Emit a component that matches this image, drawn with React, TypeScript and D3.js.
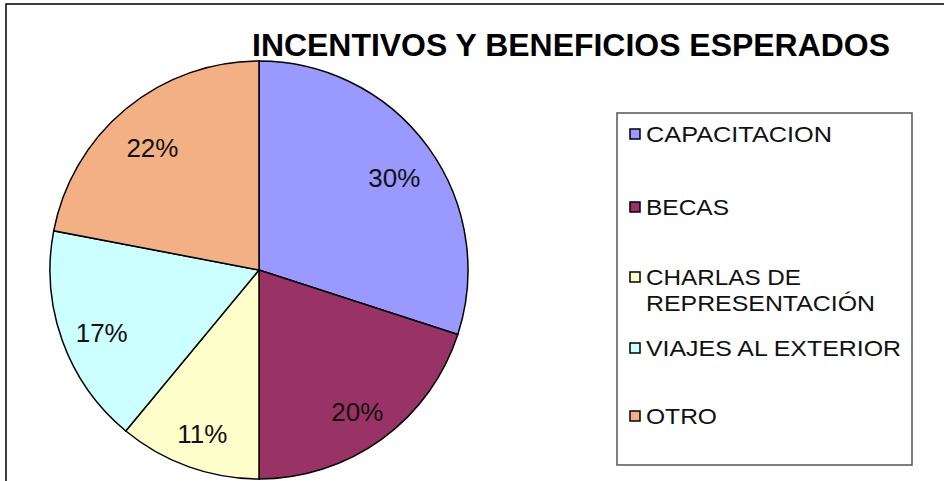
import React, { useEffect, useRef } from 'react';
import * as d3 from 'd3';

const categories = ['CAPACITACION', 'BECAS', 'CHARLAS DE REPRESENTACIÓN', 'VIAJES AL EXTERIOR', 'OTRO'];
const values = [30, 20, 11, 17, 22];
const colors = ['#9999FF', '#993366', '#FFFFCC', '#CCFFFF', '#F3B085'];
// legend text split into lines (as in the original box)
const legendLines = [['CAPACITACION'], ['BECAS'], ['CHARLAS DE', 'REPRESENTACIÓN'], ['VIAJES AL EXTERIOR'], ['OTRO']];
const legendWidths = [[186], [83], [155, 229], [255], [71]];
const legendY = [134, 207, 277, 348, 416];

const W = 944;
const H = 481;

const App: React.FC = () => {
  const svgRef = useRef<SVGSVGElement | null>(null);

  useEffect(() => {
    const svg = d3.select(svgRef.current);
    svg.selectAll('*').remove();

    // outer frame (runs off the right / bottom edges)
    svg.append('rect')
      .attr('x', 6).attr('y', 4)
      .attr('width', W + 20).attr('height', H + 20)
      .attr('fill', '#fff').attr('stroke', '#000').attr('stroke-width', 1.5);

    svg.append('text')
      .attr('x', 252).attr('y', 56)
      .attr('font-family', 'Liberation Sans, Arial, sans-serif')
      .attr('font-weight', 'bold')
      .attr('font-size', 31)
      .attr('textLength', 638)
      .attr('lengthAdjust', 'spacingAndGlyphs')
      .attr('fill', '#000')
      .text('INCENTIVOS Y BENEFICIOS ESPERADOS');

    const cx = 259, cy = 270, r = 209;
    const pie = d3.pie<number>().sort(null).value((d) => d)(values);
    const arc = d3.arc<d3.PieArcDatum<number>>().innerRadius(0).outerRadius(r);
    const labelArc = d3.arc<d3.PieArcDatum<number>>().innerRadius(r * 0.8).outerRadius(r * 0.8);
    const total = d3.sum(values);

    const g = svg.append('g').attr('transform', `translate(${cx},${cy})`);
    g.selectAll('path.slice')
      .data(pie)
      .enter()
      .append('path')
      .attr('class', 'slice')
      .attr('d', arc)
      .attr('fill', (_, i) => colors[i])
      .attr('stroke', '#000')
      .attr('stroke-width', 1.5);

    g.selectAll('text.pct')
      .data(pie)
      .enter()
      .append('text')
      .attr('class', 'pct')
      .attr('transform', (d) => `translate(${labelArc.centroid(d)})`)
      .attr('text-anchor', 'middle')
      .attr('dy', '0.6em')
      .attr('font-family', 'Liberation Sans, Arial, sans-serif')
      .attr('font-size', 26)
      .attr('fill', '#111')
      .text((d) => `${Math.round((d.data / total) * 100)}%`);

    // legend
    const lg = svg.append('g');
    lg.append('rect')
      .attr('x', 617).attr('y', 113)
      .attr('width', 295).attr('height', 352)
      .attr('fill', '#fff').attr('stroke', '#555').attr('stroke-width', 1.5);

    categories.forEach((c, i) => {
      const lines = legendLines[i];
      lg.append('rect')
        .attr('x', 630).attr('y', legendY[i] - 5)
        .attr('width', 10).attr('height', 10)
        .attr('fill', colors[i]).attr('stroke', '#000').attr('stroke-width', 1.5);
      lines.forEach((ln, j) => {
        lg.append('text')
          .attr('x', 646).attr('y', legendY[i] + j * 26)
          .attr('dy', '0.36em')
          .attr('font-family', 'Liberation Sans, Arial, sans-serif')
          .attr('font-size', 22)
          .attr('textLength', legendWidths[i][j])
          .attr('lengthAdjust', 'spacingAndGlyphs')
          .attr('fill', '#111')
          .text(ln);
      });
    });
  }, []);

  return (
    <svg
      ref={svgRef}
      width={W}
      height={H}
      style={{ position: 'absolute', left: 0, top: 0, display: 'block', background: '#fff' }}
    />
  );
};

export default App;
